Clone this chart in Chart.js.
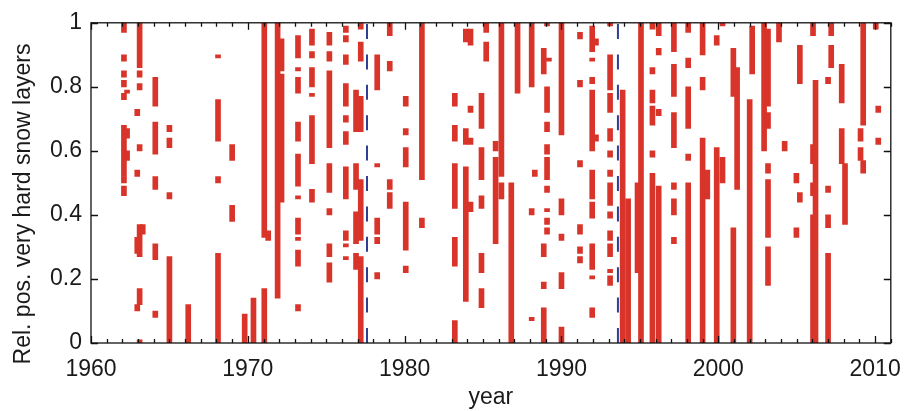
<!DOCTYPE html>
<html>
<head>
<meta charset="utf-8">
<script src="https://cdn.jsdelivr.net/npm/chart.js@4.4.0/dist/chart.umd.min.js"></script>
<style>
  html, body { margin: 0; padding: 0; background: #fff; }
  #wrap { width: 914px; height: 411px; }
</style>
</head>
<body>
<div id="wrap"><canvas id="Grafik" width="914" height="411"></canvas></div>
<script>
// hard layers: [year, bottom, top] (relative position in snow pack)
const layers = [
  [1962.1, 0.97, 1.0], [1962.1, 0.88, 0.90], [1962.1, 0.83, 0.85], [1962.1, 0.80, 0.82], [1962.1, 0.76, 0.78],
  [1962.1, 0.52, 0.68], [1962.1, 0.50, 0.52], [1962.1, 0.46, 0.49],
  [1962.3, 0.78, 0.79], [1962.3, 0.64, 0.67], [1962.3, 0.57, 0.60],
  [1963.1, 0.86, 1.0], [1963.1, 0.83, 0.85], [1963.1, 0.79, 0.81], [1963.1, 0.60, 0.62], [1963.1, 0.27, 0.37],
  [1963.1, 0.12, 0.17], [1963.1, 0.0, 0.01],
  [1962.95, 0.71, 0.73], [1962.95, 0.52, 0.54], [1962.95, 0.28, 0.33], [1962.95, 0.10, 0.12],
  [1963.3, 0.34, 0.37],
  [1964.1, 0.74, 0.83], [1964.1, 0.59, 0.69], [1964.1, 0.48, 0.52], [1964.1, 0.26, 0.31], [1964.1, 0.08, 0.10],
  [1965.0, 0.66, 0.68], [1965.0, 0.61, 0.64], [1965.0, 0.45, 0.47], [1965.0, 0.0, 0.27],
  [1966.2, 0.0, 0.12],
  [1968.1, 0.89, 0.90], [1968.1, 0.63, 0.76], [1968.1, 0.50, 0.52], [1968.1, 0.0, 0.28],
  [1969.0, 0.57, 0.62], [1969.0, 0.38, 0.43],
  [1969.8, 0.0, 0.09],
  [1970.36, 0.0, 0.14],
  [1971.05, 0.33, 1.0], [1971.05, 0.0, 0.17],
  [1971.3, 0.32, 0.35],
  [1971.9, 0.14, 1.0],
  [1972.15, 0.85, 0.95], [1972.15, 0.44, 0.84],
  [1973.2, 0.89, 0.96], [1973.2, 0.85, 0.86], [1973.2, 0.78, 0.83], [1973.2, 0.63, 0.69], [1973.2, 0.49, 0.59],
  [1973.2, 0.45, 0.46], [1973.2, 0.34, 0.39], [1973.2, 0.32, 0.33], [1973.2, 0.24, 0.29], [1973.2, 0.10, 0.12],
  [1974.09, 0.93, 0.98], [1974.09, 0.89, 0.91], [1974.09, 0.80, 0.86], [1974.09, 0.77, 0.78], [1974.09, 0.56, 0.71],
  [1974.09, 0.44, 0.48],
  [1975.2, 0.93, 0.97], [1975.2, 0.88, 0.91], [1975.2, 0.61, 0.85], [1975.2, 0.47, 0.56], [1975.2, 0.40, 0.42],
  [1975.2, 0.27, 0.31], [1975.2, 0.19, 0.25],
  [1976.25, 0.97, 0.99], [1976.25, 0.94, 0.96], [1976.25, 0.87, 0.90], [1976.25, 0.74, 0.81], [1976.25, 0.69, 0.71],
  [1976.25, 0.62, 0.66], [1976.25, 0.45, 0.55], [1976.25, 0.32, 0.35], [1976.25, 0.30, 0.31], [1976.25, 0.26, 0.27],
  [1976.9, 0.66, 0.79], [1976.9, 0.48, 0.56], [1976.9, 0.31, 0.41], [1976.9, 0.23, 0.28],
  [1977.2, 0.98, 1.0], [1977.2, 0.88, 0.94], [1977.2, 0.66, 0.77], [1977.2, 0.32, 0.51], [1977.2, 0.0, 0.27],
  [1978.25, 0.79, 0.90], [1978.25, 0.55, 0.56], [1978.25, 0.34, 0.39], [1978.25, 0.31, 0.33], [1978.25, 0.20, 0.22],
  [1979.05, 0.96, 1.0], [1979.05, 0.85, 0.88], [1979.05, 0.48, 0.51], [1979.05, 0.42, 0.47],
  [1980.07, 0.74, 0.77], [1980.07, 0.65, 0.67], [1980.07, 0.55, 0.61], [1980.07, 0.29, 0.44], [1980.07, 0.22, 0.24],
  [1981.1, 0.51, 1.0], [1981.1, 0.36, 0.39],
  [1983.2, 0.74, 0.78], [1983.2, 0.63, 0.68], [1983.2, 0.42, 0.56], [1983.2, 0.24, 0.33], [1983.2, 0.0, 0.07],
  [1983.9, 0.94, 0.98], [1983.9, 0.62, 0.67], [1983.9, 0.13, 0.55],
  [1984.2, 0.93, 0.98], [1984.2, 0.72, 0.74], [1984.2, 0.62, 0.64], [1984.2, 0.41, 0.44],
  [1984.9, 0.67, 0.78], [1984.9, 0.51, 0.61], [1984.9, 0.42, 0.46], [1984.9, 0.22, 0.28], [1984.9, 0.11, 0.17],
  [1985.2, 0.97, 1.0], [1985.2, 0.88, 0.94],
  [1985.8, 0.60, 0.63], [1985.8, 0.31, 0.58],
  [1986.17, 0.52, 1.0], [1986.17, 0.45, 0.50],
  [1986.8, 0.0, 0.50],
  [1987.2, 0.78, 1.0],
  [1988.1, 0.80, 1.0], [1988.1, 0.40, 0.42], [1988.1, 0.07, 0.08],
  [1988.3, 0.52, 0.54],
  [1988.87, 0.84, 0.92], [1988.87, 0.27, 0.31], [1988.87, 0.17, 0.19], [1988.87, 0.0, 0.11],
  [1989.08, 0.99, 1.0], [1989.08, 0.72, 0.80], [1989.08, 0.66, 0.69], [1989.08, 0.59, 0.62], [1989.08, 0.51, 0.58],
  [1989.08, 0.47, 0.49], [1989.08, 0.41, 0.42], [1989.08, 0.37, 0.39], [1989.08, 0.34, 0.36],
  [1989.2, 0.88, 0.89],
  [1990.0, 0.65, 1.0], [1990.0, 0.40, 0.45], [1990.0, 0.32, 0.34], [1990.0, 0.17, 0.22], [1990.0, 0.0, 0.05],
  [1991.18, 0.95, 0.97], [1991.18, 0.80, 0.82], [1991.18, 0.55, 0.57], [1991.18, 0.34, 0.37], [1991.18, 0.28, 0.30],
  [1991.18, 0.25, 0.27],
  [1991.96, 0.91, 0.99], [1991.96, 0.88, 0.89], [1991.96, 0.81, 0.83], [1991.96, 0.60, 0.79], [1991.96, 0.45, 0.54],
  [1991.96, 0.39, 0.44], [1991.96, 0.23, 0.31], [1991.96, 0.20, 0.21], [1991.96, 0.08, 0.11],
  [1992.2, 0.93, 0.95], [1992.2, 0.63, 0.65],
  [1993.1, 0.99, 1.0], [1993.1, 0.79, 0.90], [1993.1, 0.72, 0.78], [1993.1, 0.63, 0.67], [1993.1, 0.58, 0.60],
  [1993.1, 0.52, 0.54], [1993.1, 0.43, 0.50], [1993.1, 0.39, 0.41], [1993.1, 0.32, 0.35], [1993.1, 0.27, 0.31],
  [1993.1, 0.22, 0.23], [1993.1, 0.18, 0.21],
  [1993.9, 0.0, 0.79],
  [1994.25, 0.0, 0.45],
  [1994.85, 0.22, 0.50],
  [1995.07, 0.0, 1.0],
  [1995.8, 0.98, 1.0], [1995.8, 0.84, 0.86], [1995.8, 0.75, 0.79], [1995.8, 0.68, 0.74], [1995.8, 0.58, 0.60],
  [1995.8, 0.0, 0.53],
  [1996.2, 0.96, 1.0], [1996.2, 0.90, 0.92], [1996.2, 0.71, 0.73], [1996.2, 0.0, 0.49],
  [1997.17, 0.91, 1.0], [1997.17, 0.77, 0.87], [1997.17, 0.61, 0.72], [1997.17, 0.48, 0.50], [1997.17, 0.40, 0.45],
  [1997.17, 0.31, 0.33],
  [1998.08, 0.97, 1.0], [1998.08, 0.86, 0.89], [1998.08, 0.67, 0.80], [1998.08, 0.57, 0.59], [1998.08, 0.0, 0.50],
  [1999.0, 0.90, 1.0], [1999.0, 0.79, 0.83], [1999.0, 0.0, 0.64],
  [1999.3, 0.45, 0.54],
  [1999.9, 0.93, 0.96], [1999.9, 0.0, 0.61],
  [2000.27, 0.99, 1.0], [2000.27, 0.50, 0.58],
  [2000.96, 0.77, 0.92], [2000.96, 0.0, 0.36],
  [2001.2, 0.48, 0.86],
  [2002.0, 0.0, 0.76],
  [2002.16, 0.84, 0.99],
  [2002.92, 0.60, 1.0],
  [2003.17, 0.74, 0.98], [2003.17, 0.67, 0.72], [2003.17, 0.53, 0.56], [2003.17, 0.33, 0.51], [2003.17, 0.18, 0.30],
  [2003.87, 0.94, 1.0],
  [2004.23, 0.60, 0.63],
  [2004.98, 0.50, 0.53], [2004.98, 0.33, 0.36],
  [2005.2, 0.81, 0.93], [2005.2, 0.44, 0.47],
  [2006.04, 0.96, 1.0], [2006.04, 0.56, 0.62], [2006.04, 0.46, 0.50], [2006.04, 0.0, 0.40],
  [2006.2, 0.0, 0.82],
  [2007.0, 0.81, 0.83], [2007.0, 0.47, 0.49], [2007.0, 0.36, 0.40], [2007.0, 0.0, 0.28],
  [2007.2, 0.96, 1.0], [2007.2, 0.86, 0.93],
  [2007.87, 0.75, 0.87], [2007.87, 0.56, 0.67],
  [2008.08, 0.37, 0.56],
  [2009.07, 0.63, 0.67], [2009.07, 0.57, 0.61],
  [2009.24, 0.68, 1.0], [2009.24, 0.53, 0.57],
  [2010.04, 0.98, 1.0],
  [2010.2, 0.72, 0.74], [2010.2, 0.62, 0.64]
];

const dashYears = [1977.6, 1993.6];
const xTicks = [1960, 1970, 1980, 1990, 2000, 2010];
const yTicks = [0, 0.2, 0.4, 0.6, 0.8, 1];
const xMin = 1960, xMax = 2011;

const rot = '#d8342a';
const biru = '#2f3f92';
const schrift = '"Liberation Sans", Arial, sans-serif';

// rahmen + ticks nach innen, y-titel
const rahmen = {
    id: 'rahmen',
    afterDraw(chart) {
        const ctx = chart.ctx;
        const a = chart.chartArea;
        const sx = chart.scales.x, sy = chart.scales.y;
        ctx.save();
        ctx.strokeStyle = '#111';
        ctx.lineWidth = 1.3;
        ctx.strokeRect(a.left, a.top, a.right - a.left, a.bottom - a.top);
        ctx.beginPath();
        for (let j = xMin; j <= xMax; j++) {
            const px = Math.round(sx.getPixelForValue(j)) + 0.5;
            const len = (j % 10 === 0) ? 7 : 4;
            ctx.moveTo(px, a.bottom); ctx.lineTo(px, a.bottom - len);
            ctx.moveTo(px, a.top); ctx.lineTo(px, a.top + len);
        }
        yTicks.forEach(v => {
            const py = Math.round(sy.getPixelForValue(v)) + 0.5;
            ctx.moveTo(a.left, py); ctx.lineTo(a.left + 7, py);
            ctx.moveTo(a.right, py); ctx.lineTo(a.right - 7, py);
        });
        ctx.stroke();

        ctx.translate(24, 204);
        ctx.rotate(-Math.PI / 2);
        ctx.fillStyle = '#1a1a1a';
        ctx.font = '23px ' + schrift;
        ctx.textAlign = 'center';
        ctx.textBaseline = 'middle';
        ctx.fillText('Rel. pos. very hard snow layers', 0, 0);
        ctx.restore();
    }
};

const datasets = [{
    type: 'bar',
    data: layers.map(s => ({ x: s[0], y: [s[1], s[2]] })),
    backgroundColor: rot,
    borderWidth: 0,
    barThickness: 5,
    grouped: false
}];
dashYears.forEach(j => {
    datasets.push({
        type: 'line',
        data: [{ x: j, y: 0 }, { x: j, y: 1 }],
        borderColor: biru,
        borderWidth: 2,
        borderDash: [15, 15.4],
        pointRadius: 0,
        fill: false
    });
});

new Chart(document.getElementById('Grafik'), {
    type: 'bar',
    data: { datasets },
    options: {
        responsive: false,
        animation: false,
        layout: { padding: { left: 0, right: 15, top: 14, bottom: 0 } },
        plugins: { legend: { display: false }, tooltip: { enabled: false } },
        scales: {
            x: {
                type: 'linear',
                min: xMin, max: xMax,
                offset: false,
                grid: { display: false, drawTicks: false },
                border: { display: false },
                afterBuildTicks: s => { s.ticks = xTicks.map(v => ({ value: v })); },
                afterFit: s => { s.height = 68; },
                ticks: {
                    padding: 13,
                    color: '#1a1a1a',
                    font: { family: schrift, size: 23 },
                    maxRotation: 0,
                    callback: v => String(v)
                },
                title: {
                    display: true,
                    text: 'year',
                    color: '#1a1a1a',
                    font: { family: schrift, size: 23 },
                    padding: { top: 0, bottom: 0 }
                }
            },
            y: {
                min: 0, max: 1,
                grid: { display: false, drawTicks: false },
                border: { display: false },
                afterBuildTicks: s => { s.ticks = yTicks.map(v => ({ value: v })); },
                afterFit: s => { s.width = 91; },
                ticks: {
                    padding: 9,
                    color: '#1a1a1a',
                    font: { family: schrift, size: 23 },
                    callback: v => String(v)
                }
            }
        }
    },
    plugins: [rahmen]
});
</script>
</body>
</html>
